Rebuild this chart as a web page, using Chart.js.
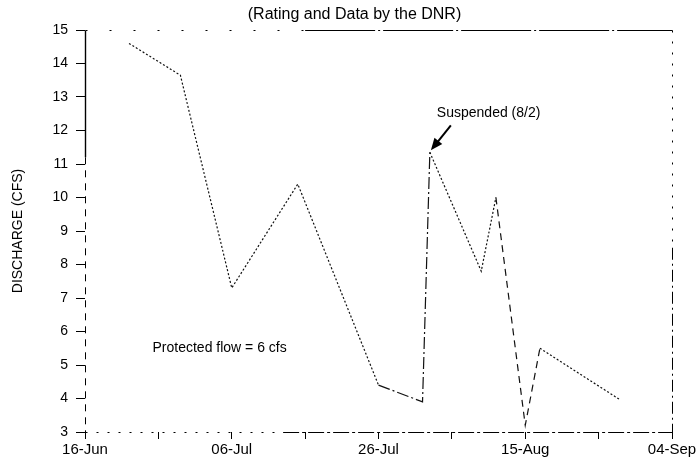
<!DOCTYPE html>
<html>
<head>
<meta charset="utf-8">
<script src="https://cdn.jsdelivr.net/npm/chart.js@4/dist/chart.umd.min.js"></script>
<style>
  html, body { margin: 0; padding: 0; background: #fff; }
  #wrap { width: 700px; height: 461px; }
</style>
</head>
<body>
<div id="wrap"><canvas id="chart"></canvas></div>
<script>
// days counted from 16-Jun, one axis tick every 10 days
const startDate = '06-16';
const xTickLabels = ['16-Jun', '', '06-Jul', '', '26-Jul', '', '15-Aug', '', '04-Sep'];
const obsDates = ['06-22', '06-29', '07-06', '07-15', '07-26', '08-01', '08-02', '08-09', '08-11', '08-15', '08-17', '08-28'];
const dischargeCfs = [14.6, 13.65, 7.3, 10.4, 4.4, 3.9, 11.35, 7.8, 10.0, 3.2, 5.5, 3.95];
const suspendedDate = '08-02';

const FONT = '"Liberation Sans", Arial, Helvetica, sans-serif';

function dayOf(md) {
    const [m, d] = md.split('-').map(Number);
    const [m0, d0] = startDate.split('-').map(Number);
    return (Date.UTC(2000, m - 1, d) - Date.UTC(2000, m0 - 1, d0)) / 86400000;
}

const points = obsDates.map((d, i) => ({ x: dayOf(d), y: dischargeCfs[i] }));

function seg(ctx, dash, x0, y0, x1, y1) {
    ctx.setLineDash(dash);
    ctx.beginPath();
    ctx.moveTo(x0, y0);
    ctx.lineTo(x1, y1);
    ctx.stroke();
}

const extras = {
    id: 'extras',
    afterDatasetsDraw(chart) {
        const { ctx, chartArea: a, scales: { x, y } } = chart;
        ctx.save();
        ctx.strokeStyle = '#000';
        ctx.lineWidth = 1;

        // frame, drawn broken like the scanned original
        const t = Math.round(a.top) + 0.5, b = Math.round(a.bottom) + 0.5;
        const l = Math.round(a.left) + 0.5, r = Math.round(a.right) + 0.5;
        const xs = x.getPixelForValue(30);
        seg(ctx, [2, 22], l, t, xs, t);
        seg(ctx, [70, 3, 2, 3], xs, t, r, t);

        const ys = y.getPixelForValue(8.5);
        seg(ctx, [2, 9], r, t, r, ys);
        seg(ctx, [12, 4, 2, 4], r, ys, r, b);

        const xb = x.getPixelForValue(27);
        seg(ctx, [2, 9], l, b, xb, b);
        seg(ctx, [16, 3, 3, 3], xb, b, r, b);

        const ls = y.getPixelForValue(11.2);
        ctx.lineWidth = 1.4;
        seg(ctx, [], l, t, l, ls);
        ctx.lineWidth = 1;
        seg(ctx, [7, 6], l, ls, l, b);

        // title
        ctx.setLineDash([]);
        ctx.fillStyle = '#000';
        ctx.textBaseline = 'middle';
        ctx.textAlign = 'center';
        ctx.font = '16px ' + FONT;
        ctx.fillText('(Rating and Data by the DNR)', (a.left + a.right) / 2 - 24, a.top - 15);

        // annotations
        ctx.font = '14px ' + FONT;
        ctx.textAlign = 'left';
        ctx.fillText('Protected flow = 6 cfs', x.getPixelForValue(9.2), y.getPixelForValue(5.5));

        const i = obsDates.indexOf(suspendedDate);
        const px = x.getPixelForValue(dayOf(suspendedDate));
        const py = y.getPixelForValue(dischargeCfs[i]);
        ctx.fillText('Suspended (8/2)', px + 7, py - 39);

        // arrow pointing at the suspended reading
        const tx = px + 21, ty = py - 27, hx = px + 1, hy = py - 2;
        const ang = Math.atan2(hy - ty, hx - tx);
        ctx.lineWidth = 2;
        seg(ctx, [], tx, ty, hx - 8 * Math.cos(ang), hy - 8 * Math.sin(ang));
        ctx.beginPath();
        ctx.moveTo(hx, hy);
        ctx.lineTo(hx - 12 * Math.cos(ang) + 5 * Math.sin(ang), hy - 12 * Math.sin(ang) - 5 * Math.cos(ang));
        ctx.lineTo(hx - 12 * Math.cos(ang) - 5 * Math.sin(ang), hy - 12 * Math.sin(ang) + 5 * Math.cos(ang));
        ctx.closePath();
        ctx.fill();
        ctx.restore();
    }
};

new Chart(document.getElementById('chart'), {
    type: 'line',
    data: {
        datasets: [{
            data: points,
            borderColor: '#111',
            borderWidth: 1.2,
            borderDash: [2, 2],
            pointRadius: 0,
            tension: 0,
            segment: {
                borderDash: c => {
                    const k = c.p0DataIndex;
                    if (k === 4 || k === 5) return [12, 3, 2, 3];
                    if (k === 8 || k === 9) return [7, 5];
                    return [2, 2];
                }
            }
        }]
    },
    options: {
        responsive: true,
        maintainAspectRatio: false,
        animation: false,
        devicePixelRatio: 1,
        layout: { padding: { left: 0, right: 28, top: 30, bottom: 0 } },
        plugins: {
            legend: { display: false },
            tooltip: { enabled: false },
            title: { display: false }
        },
        scales: {
            x: {
                type: 'linear',
                min: 0,
                max: 80,
                afterFit: s => { s.height = 29; },
                border: { display: false },
                grid: { drawOnChartArea: false, drawTicks: true, tickLength: 7, color: '#000' },
                ticks: {
                    stepSize: 10,
                    autoSkip: false,
                    maxRotation: 0,
                    padding: 2,
                    color: '#000',
                    font: { family: FONT, size: 15 },
                    callback: v => xTickLabels[Math.round(v / 10)] ?? ''
                }
            },
            y: {
                min: 3,
                max: 15,
                afterFit: s => { s.width = 85; },
                border: { display: false },
                grid: { drawOnChartArea: false, drawTicks: true, tickLength: 9, color: '#000' },
                ticks: {
                    stepSize: 1,
                    padding: 8,
                    color: '#000',
                    font: { family: FONT, size: 14 }
                },
                title: {
                    display: true,
                    text: 'DISCHARGE (CFS)',
                    color: '#000',
                    font: { family: FONT, size: 14 },
                    padding: { top: 10, bottom: 4 }
                }
            }
        }
    },
    plugins: [extras]
});
</script>
</body>
</html>
